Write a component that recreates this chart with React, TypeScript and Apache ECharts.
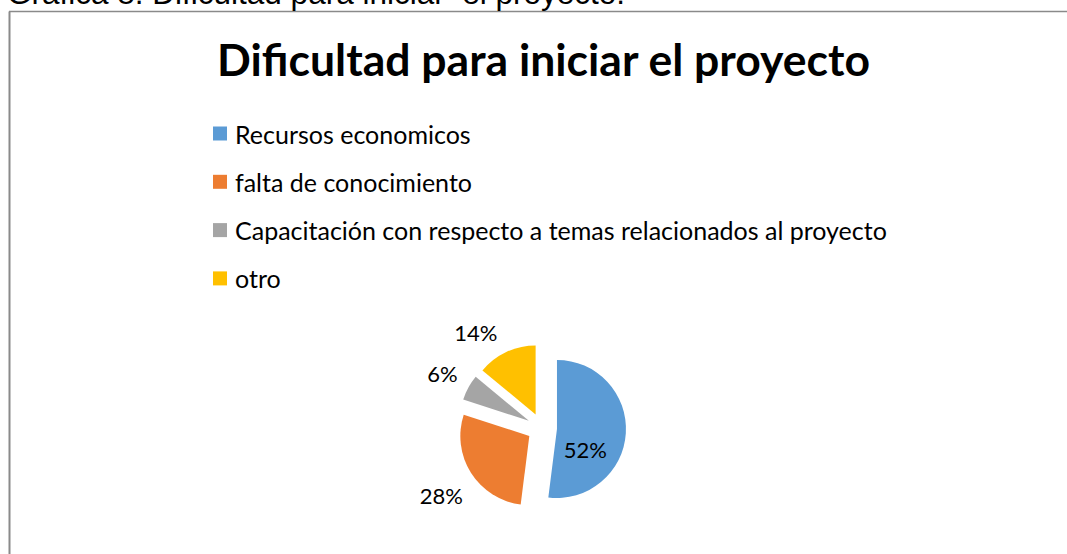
import React, { useEffect, useRef } from "react";
import * as echarts from "echarts";

const caption = "Gráfica 8. Dificultad para iniciar  el proyecto.";
const chartTitle = "Dificultad para iniciar el proyecto";
const categories = [
  "Recursos economicos",
  "falta de conocimiento",
  "Capacitación con respecto a temas relacionados al proyecto",
  "otro",
];
const values = [52, 28, 6, 14];
const colors = ["#5B9BD5", "#ED7D31", "#A5A5A5", "#FFC000"];
const labelPositions = ["inside", "outside", "outside", "outside"];
const labelLineLengths = [0, 25, 18, 21];
const labelNudges = [
  { dx: -9, dy: 18 },
  { dx: 13, dy: 9 },
  { dx: 5, dy: -5 },
  { dx: 0, dy: 0 },
];

export default function App() {
  const ref = useRef<HTMLDivElement>(null);
  useEffect(() => {
    if (!ref.current) return;
    const chart = echarts.init(ref.current, undefined, { renderer: "svg" });
    const font = "Lato, 'Open Sans', sans-serif";
    chart.setOption({
      animation: false,
      backgroundColor: "#ffffff",
      color: colors,
      legend: {
        orient: "vertical",
        left: 213,
        top: 121,
        padding: 0,
        itemWidth: 14,
        itemHeight: 14,
        itemGap: 23.3,
        icon: "rect",
        selectedMode: false,
        data: categories,
        textStyle: {
          fontFamily: font,
          fontSize: 25,
          color: "#000000",
          padding: [0, 0, 0, 3],
        },
      },
      graphic: [
        {
          type: "line",
          silent: true,
          shape: { x1: 9.5, y1: 11.5, x2: 9.5, y2: 560 },
          style: { stroke: "#8a8a8a", lineWidth: 2 },
        },
        {
          type: "line",
          silent: true,
          shape: { x1: 9, y1: 11.5, x2: 1070, y2: 11.5 },
          style: { stroke: "#8a8a8a", lineWidth: 1.5 },
        },
        {
          type: "text",
          silent: true,
          x: 7,
          y: 9,
          style: {
            text: caption,
            fontFamily: "'Liberation Sans', Arial, sans-serif",
            fontSize: 31.5,
            fill: "#000000",
            align: "left",
            verticalAlign: "bottom",
          },
        },
        {
          type: "text",
          silent: true,
          x: 543.5,
          y: 58,
          style: {
            text: chartTitle,
            fontFamily: font,
            fontWeight: "bold",
            fontSize: 44.5,
            fill: "#000000",
            align: "center",
            verticalAlign: "middle",
          },
        },
      ],
      series: [
        {
          type: "pie",
          center: [542, 428],
          radius: 69,
          startAngle: 90,
          clockwise: true,
          selectedMode: "multiple",
          selectedOffset: 15,
          avoidLabelOverlap: false,
          percentPrecision: 0,
          emphasis: { disabled: true },
          label: {
            formatter: "{d}%",
            fontFamily: font,
            fontSize: 22,
            color: "#000000",
            distanceToLabelLine: 0,
          },
          labelLine: { show: false, length2: 0 },
          labelLayout: (p: any) => labelNudges[p.dataIndex],
          data: categories.map((name, i) => ({
            name,
            value: values[i],
            selected: true,
            label: { position: labelPositions[i] },
            labelLine: { length: labelLineLengths[i] },
          })),
        },
      ],
    });
    return () => chart.dispose();
  }, []);
  return (
    <div
      ref={ref}
      style={{ position: "fixed", left: 0, top: 0, width: 1067, height: 554 }}
    />
  );
}
